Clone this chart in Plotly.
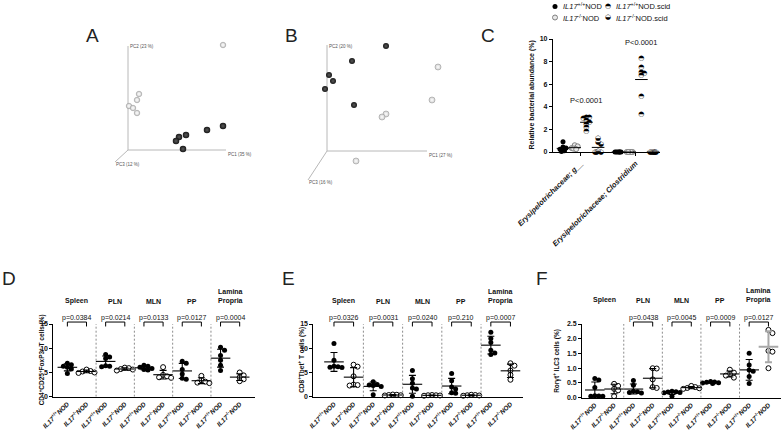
import numpy as np
import plotly.graph_objects as go

W, H = 783, 436
SANS = "Arial, 'Liberation Sans', Helvetica, sans-serif"
GLYPH = "'DejaVu Sans', sans-serif"

# ------------------------------------------------------------------ DATA
# Panel A - PCoA, projected 2-D coordinates
pcaA_black_x = [79, 95, 58, 51, 48, 55]
pcaA_black_y = [20, 24, 15, 13, 9, 1]
pcaA_white_x = [95, 11, 9, 1, 5, 9]
pcaA_white_y = [105, 56, 50, 44, 42, 37]
pcaA_labels = ["PC1 (35 %)", "PC2 (23 %)", "PC3 (12 %)"]

# Panel B - PCoA, projected 2-D coordinates
pcaB_black_x = [59, 25, 2, 6, -2, 27]
pcaB_black_y = [105, 90, 76, 70, 62, 46]
pcaB_white_x = [111, 105, 59, 55, 29]
pcaB_white_y = [84, 51, 37, 34, -10]
pcaB_labels = ["PC1 (27 %)", "PC2 (20 %)", "PC3 (16 %)"]

# Panel C - relative bacterial abundance (%)
c_taxa = ["Erysipelotrichaceae; g__", "Erysipelotrichaceae; Clostridium"]
c_groups = ["<i>IL17</i><sup>+/+</sup>NOD", "<i>IL17</i><sup>-/-</sup>NOD",
            "<i>IL17</i><sup>+/+</sup>NOD.scid", "<i>IL17</i><sup>-/-</sup>NOD.scid"]
c_g_wt_nod = [0.9, 0.45, 0.35, 0.25, 0.15, 0.1, 0.05]
c_g_ko_nod = [0.6, 0.5, 0.35, 0.3, 0.3, 0.25]
c_g_wt_scid = [3.1, 3.05, 3.0, 2.8, 2.6, 2.5, 2.2, 1.8]
c_g_ko_scid = [1.2, 0.9, 0.7, 0.05, 0.0, 0.0, 0.0]
c_cl_wt_nod = [0, 0, 0, 0, 0, 0]
c_cl_ko_nod = [0, 0, 0, 0, 0]
c_cl_wt_scid = [8.3, 7.5, 7.1, 7.0, 6.8, 4.9, 3.3]
c_cl_ko_scid = [0, 0, 0, 0, 0, 0]
c_pvalues = ["P<0.0001", "P<0.0001"]

# Panels D-F
tissues = ["Spleen", "PLN", "MLN", "PP", "Lamina<br>Propria"]
col_labels = ["<i>IL17</i><sup>+/+</sup><i>NOD</i>", "<i>IL17</i><sup>-/-</sup><i>NOD</i>"]

d_wt = [[6.9, 6.6, 6.3, 6.1, 5.7, 4.8], [8.7, 8.2, 7.9, 6.4, 6.3, 6.2],
        [6.5, 6.3, 6.1, 5.8, 5.6, 5.5], [7.3, 6.9, 5.6, 4.7, 3.8, 3.6],
        [10.2, 9.6, 8.5, 7.5, 6.5, 5.4]]
d_ko = [[5.6, 5.3, 5.2, 5.0, 4.9], [6.0, 5.9, 5.7, 5.6, 5.4],
        [6.1, 4.5, 4.2, 4.0, 3.9], [4.3, 3.4, 3.1, 2.9, 2.8],
        [5.0, 4.4, 4.0, 3.6, 3.2]]
d_pvals = ["p=0.0384", "p=0.0214", "p=0.0133", "p=0.0127", "p=0.0004"]

e_wt = [[11.0, 7.5, 6.3, 6.2, 6.1, 6.0], [3.1, 2.5, 2.4, 2.3, 2.1, 0.4],
        [5.4, 3.7, 2.8, 1.8, 1.6, 0.1], [4.8, 3.3, 2.0, 1.6, 0.8, 0.7],
        [13.3, 12.0, 11.2, 9.6, 9.0, 8.7]]
e_ko = [[6.6, 6.2, 4.2, 2.5, 2.3, 2.4], [0.45, 0.4, 0.35, 0.3, 0.25],
        [0.35, 0.3, 0.3, 0.25, 0.2], [0.4, 0.35, 0.3, 0.25, 0.2],
        [6.9, 6.4, 5.4, 4.5, 3.5]]
e_pvals = ["p=0.0326", "p=0.0031", "p=0.0240", "p=0.210", "p=0.0007"]

f_wt = [[0.65, 0.60, 0.35, 0.07, 0.06, 0.05, 0.05], [0.58, 0.42, 0.22, 0.20, 0.18, 0.16],
        [0.22, 0.20, 0.19, 0.18, 0.17, 0.05], [0.55, 0.53, 0.52, 0.51, 0.50, 0.48],
        [1.51, 1.11, 0.94, 0.90, 0.72, 0.48]]
f_ko = [[0.47, 0.40, 0.30, 0.25, 0.05], [1.00, 0.99, 0.62, 0.36, 0.33],
        [0.40, 0.36, 0.33, 0.32, 0.30], [0.95, 0.85, 0.80, 0.75, 0.68],
        [2.30, 2.19, 1.59, 1.56, 1.00]]
f_pvals = ["", "p=0.0438", "p=0.0045", "p=0.0009", "p=0.0127"]

# ------------------------------------------------------------------ HELPERS
def fx(px):
    return px / W


def fy(py):
    return 1 - py / H


def axkey(aid):
    return aid[0] + "axis" + aid[1:]


fig = go.Figure()
layout = dict(template="none", width=W, height=H, margin=dict(l=0, r=0, t=0, b=0, pad=0),
              paper_bgcolor="white", plot_bgcolor="rgba(0,0,0,0)",
              showlegend=False, font=dict(family=SANS, color="#111"))
annotations = []
shapes = []


def swarm(vals, ppu_y, d, cap):
    vals = np.asarray(vals, float)
    order = np.argsort(-vals, kind="stable")
    placed = []
    offs = np.zeros(len(vals))
    cands = [0.0] + [s * k * d for k in range(1, 8) for s in (1, -1)]
    for n, i in enumerate(order):
        y = vals[i] * ppu_y
        chosen = None
        for c in cands:
            if abs(c) > cap:
                break
            if all((c - px) ** 2 + (y - py) ** 2 >= (0.95 * d) ** 2 for px, py in placed):
                chosen = c
                break
        if chosen is None:
            chosen = d * 0.5 * (1 if n % 2 else -1)
        placed.append((chosen, y))
        offs[i] = chosen
    return offs


# ------------------------------------------------------------------ A, B (PCoA)
def pca_panel(xid, yid, xpx, ypx, xr, yr, bx, by, wx, wy, ends, labels, lab_pos, bsize, wsize):
    layout[axkey(xid)] = dict(domain=[fx(xpx[0]), fx(xpx[1])], range=xr, visible=False,
                              anchor=yid, fixedrange=True)
    layout[axkey(yid)] = dict(domain=[fy(ypx[1]), fy(ypx[0])], range=yr, visible=False,
                              anchor=xid, fixedrange=True)
    for ex, ey in ends:
        fig.add_trace(go.Scatter(x=[0, ex], y=[0, ey], mode="lines",
                                 line=dict(color="#b8b8b8", width=1),
                                 xaxis=xid, yaxis=yid, hoverinfo="skip"))
    fig.add_trace(go.Scatter(x=wx, y=wy, mode="markers", xaxis=xid, yaxis=yid,
                             marker=dict(size=wsize, color="#cfcfcf",
                                         gradient=dict(type="radial", color="white"),
                                         line=dict(width=0.6, color="#9a9a9a"))))
    fig.add_trace(go.Scatter(x=bx, y=by, mode="markers", xaxis=xid, yaxis=yid,
                             marker=dict(size=bsize, color="#161616",
                                         gradient=dict(type="radial", color="#5a5a5a"),
                                         line=dict(width=0))))
    for lab, (lx, ly) in zip(labels, lab_pos):
        annotations.append(dict(text=lab, x=lx, y=ly, xref=xid, yref=yid, showarrow=False,
                                xanchor="left", yanchor="middle",
                                font=dict(size=4.5, color="#555")))


pca_panel("x", "y", (100, 250), (30, 190), [-28, 122], [-40, 120],
          pcaA_black_x, pcaA_black_y, pcaA_white_x, pcaA_white_y,
          [(98, 0), (0, 104), (-13, -12)], pcaA_labels,
          [(98, -4), (0, 103.5), (-14, -14.5)], 6.5, 5.5)
pca_panel("x2", "y2", (290, 460), (30, 195), [-37, 133], [-44, 121],
          pcaB_black_x, pcaB_black_y, pcaB_white_x, pcaB_white_y,
          [(100, 0), (0, 106), (-19, -29)], pcaB_labels,
          [(100, -4), (0, 104.5), (-20, -31)], 6, 6)

# ------------------------------------------------------------------ C
cx_px, cy_px = (553, 660), (152, 39)
cxr, cyr = [-0.855, 8.29], [0, 10]
c_ppu_x = (cx_px[1] - cx_px[0]) / (cxr[1] - cxr[0])
c_ppu_y = (cy_px[0] - cy_px[1]) / (cyr[1] - cyr[0])
c_base = [0.0, 4.7]
c_series = [[c_g_wt_nod, c_g_ko_nod, c_g_wt_scid, c_g_ko_scid],
            [c_cl_wt_nod, c_cl_ko_nod, c_cl_wt_scid, c_cl_ko_scid]]

layout["xaxis3"] = dict(domain=[fx(cx_px[0]), fx(cx_px[1])], range=cxr, anchor="y3",
                        showline=True, linecolor="black", linewidth=1.2, showgrid=False,
                        zeroline=False, ticks="outside", ticklen=3, tickcolor="black",
                        tickvals=[c_base[0] + 1.5, c_base[1] + 1.5], ticktext=c_taxa,
                        tickangle=-45,
                        tickfont=dict(size=7.5, weight="bold", style="italic", color="#111"))
layout["yaxis3"] = dict(domain=[fy(cy_px[0]), fy(cy_px[1])], range=cyr, anchor="x3",
                        showline=True, linecolor="black", linewidth=1.2, showgrid=False,
                        zeroline=False, ticks="outside", ticklen=3, tickcolor="black",
                        dtick=2, tickfont=dict(size=7, weight="bold", color="#111"))

glyph_for = {2: "\u25d3", 3: "\u25d2"}
for ci, series in enumerate(c_series):
    for j, vals in enumerate(series):
        pos = c_base[ci] + j
        xs = pos + swarm(vals, c_ppu_y, 3.0, 4.0) / c_ppu_x
        if j == 0:
            fig.add_trace(go.Scatter(x=xs, y=vals, mode="markers", xaxis="x3", yaxis="y3",
                                     cliponaxis=False,
                                     marker=dict(size=5, color="black", line=dict(width=0))))
        elif j == 1:
            fig.add_trace(go.Scatter(x=xs, y=vals, mode="markers", xaxis="x3", yaxis="y3",
                                     cliponaxis=False,
                                     marker=dict(size=5, color="#e8e8e8",
                                                 line=dict(width=1, color="#808080"))))
        else:
            fig.add_trace(go.Scatter(x=xs, y=vals, mode="text", xaxis="x3", yaxis="y3",
                                     cliponaxis=False, text=[glyph_for[j]] * len(vals),
                                     textposition="middle center",
                                     textfont=dict(family=GLYPH, size=7, color="black")))
        fig.add_trace(go.Scatter(x=[pos], y=[float(np.mean(vals))], mode="markers",
                                 xaxis="x3", yaxis="y3", cliponaxis=False,
                                 marker=dict(symbol="line-ew", size=9,
                                             line=dict(width=1, color="black"))))
for ci, ptxt in enumerate(c_pvalues):
    top = max(c_series[ci][2])
    annotations.append(dict(text=ptxt, x=c_base[ci] + 2, y=top, xref="x3", yref="y3",
                            showarrow=False, yshift=16, font=dict(size=7.5, color="#111")))
annotations.append(dict(text="<b>Relative bacterial abundance (%)</b>", textangle=-90,
                        x=fx(537), y=0.5, xref="paper", yref="y3 domain", showarrow=False,
                        font=dict(size=7, color="#111")))

# legend (overlay pixel axis)
layout["xaxis7"] = dict(domain=[0, 1], range=[0, W], visible=False, anchor="y7", fixedrange=True)
layout["yaxis7"] = dict(domain=[0, 1], range=[H, 0], visible=False, anchor="x7", fixedrange=True)
leg_rows = [6.5, 17.5]
leg_cols = [555, 608]
fig.add_trace(go.Scatter(x=[leg_cols[0]], y=[leg_rows[0]], mode="markers", xaxis="x7",
                         yaxis="y7", marker=dict(size=5, color="black")))
fig.add_trace(go.Scatter(x=[leg_cols[0]], y=[leg_rows[1]], mode="markers", xaxis="x7",
                         yaxis="y7", marker=dict(size=5, color="#e8e8e8",
                                                 line=dict(width=1, color="#808080"))))
fig.add_trace(go.Scatter(x=[leg_cols[1], leg_cols[1]], y=leg_rows, mode="text", xaxis="x7",
                         yaxis="y7", text=[glyph_for[2], glyph_for[3]],
                         textposition="middle center",
                         textfont=dict(family=GLYPH, size=7, color="black")))
leg_slots = [(0, 0), (0, 1), (1, 0), (1, 1)]
for g, (col, row) in zip(c_groups, leg_slots):
    annotations.append(dict(text=g, x=fx(leg_cols[col] + 6), y=fy(leg_rows[row]), xref="paper",
                            yref="paper", xanchor="left", yanchor="middle", showarrow=False,
                            font=dict(size=7.5, color="#111")))


# ------------------------------------------------------------------ D, E, F
def col_panel(xid, yid, xpx, ypx, xr, yr, dtick, tfmt, wt, ko, pvals, ytitle, title_x,
              grey_last_ko=False):
    ppu_x = (xpx[1] - xpx[0]) / (xr[1] - xr[0])
    ppu_y = (ypx[0] - ypx[1]) / (yr[1] - yr[0])
    ncol = 2 * len(wt)
    layout[axkey(xid)] = dict(domain=[fx(xpx[0]), fx(xpx[1])], range=xr, anchor=yid,
                              showline=True, linecolor="black", linewidth=1.2, showgrid=False,
                              zeroline=False, ticks="", tickvals=list(range(ncol)),
                              ticktext=[col_labels[i % 2] for i in range(ncol)], tickangle=-45,
                              tickfont=dict(size=6.5, weight="bold", color="#111"))
    layout[axkey(yid)] = dict(domain=[fy(ypx[0]), fy(ypx[1])], range=yr, anchor=xid,
                              showline=True, linecolor="black", linewidth=1.2, showgrid=False,
                              zeroline=False, ticks="outside", ticklen=2.5, tickcolor="black",
                              dtick=dtick, tickformat=tfmt,
                              tickfont=dict(size=7, weight="bold", color="#111"))
    for k in range(len(wt)):
        for g, vals in enumerate((wt[k], ko[k])):
            pos = 2 * k + g
            xs = pos + swarm(vals, ppu_y, 4.0, 8.0) / ppu_x
            if g == 0:
                mk = dict(size=5, color="black", line=dict(width=0))
            else:
                mk = dict(size=5, color="white", line=dict(width=1, color="black"))
            fig.add_trace(go.Scatter(x=xs, y=vals, mode="markers", xaxis=xid, yaxis=yid,
                                     cliponaxis=False, marker=mk))
            col = "#a8a8a8" if (grey_last_ko and g == 1 and k == len(wt) - 1) else "black"
            thick = 2 if col != "black" else 1.1
            fig.add_trace(go.Scatter(x=[pos], y=[float(np.mean(vals))], mode="markers",
                                     xaxis=xid, yaxis=yid, cliponaxis=False,
                                     marker=dict(symbol="line-ew", size=14,
                                                 line=dict(width=thick, color=col)),
                                     error_y=dict(type="data", array=[float(np.std(vals, ddof=1))],
                                                  width=3.5, thickness=thick, color=col)))
        if k > 0:
            shapes.append(dict(type="line", xref=xid, yref=yid, x0=2 * k - 0.5, x1=2 * k - 0.5,
                               y0=yr[0], y1=yr[1], line=dict(color="#8c8c8c", width=1, dash="2px,2px")))
        annotations.append(dict(text="<b>" + tissues[k] + "</b>", x=2 * k + 0.5, y=1.24,
                                xref=xid, yref=yid + " domain", yanchor="bottom",
                                showarrow=False, font=dict(size=7, color="#111")))
        if pvals[k]:
            annotations.append(dict(text=pvals[k], x=2 * k + 0.5, y=1.085, xref=xid,
                                    yref=yid + " domain", yanchor="middle", showarrow=False,
                                    font=dict(size=7, color="#111")))
            ytop, ylow = 1.027, 0.966
            for (a0, b0, a1, b1) in [(2 * k, ylow, 2 * k, ytop), (2 * k, ytop, 2 * k + 1, ytop),
                                     (2 * k + 1, ytop, 2 * k + 1, ylow)]:
                shapes.append(dict(type="line", xref=xid, yref=yid + " domain", x0=a0, y0=b0,
                                   x1=a1, y1=b1, line=dict(color="black", width=1)))
    annotations.append(dict(text="<b>" + ytitle + "</b>", textangle=-90, x=fx(title_x), y=0.5,
                            xref="paper", yref=yid + " domain", showarrow=False,
                            font=dict(size=6.5, color="#111")))


col_panel("x4", "y4", (53, 255), (396.7, 324), [-0.75, 9.8], [0, 15], 5, "d", d_wt, d_ko,
          d_pvals, "CD4<sup>+</sup>CD25<sup>+</sup>FoxP3<sup>+</sup> T cells (%)", 35.5)
col_panel("x5", "y5", (313, 523), (396.7, 324), [-1.07, 9.64], [0, 15], 5, "d", e_wt, e_ko,
          e_pvals, "CD8<sup>+</sup>Tbet<sup>+</sup> T cells (%)", 301.5)
col_panel("x6", "y6", (581.7, 781), (397.7, 324), [-0.68, 9.65], [0, 2.5], 0.5, ".1f", f_wt,
          f_ko, f_pvals, "Ror\u03b3t<sup>+</sup> ILC3 cells (%)", 563.5, grey_last_ko=True)

# ------------------------------------------------------------------ panel letters
for letter, (px, py) in zip("ABCDEF", [(92, 35), (291, 35), (488, 35), (9, 278), (288, 278), (542, 278)]):
    annotations.append(dict(text=letter, x=fx(px), y=fy(py), xref="paper", yref="paper",
                            xanchor="center", yanchor="middle", showarrow=False,
                            font=dict(size=19, color="#222")))

layout["annotations"] = annotations
layout["shapes"] = shapes
fig.update_layout(**layout)
fig.write_html("out.html")
